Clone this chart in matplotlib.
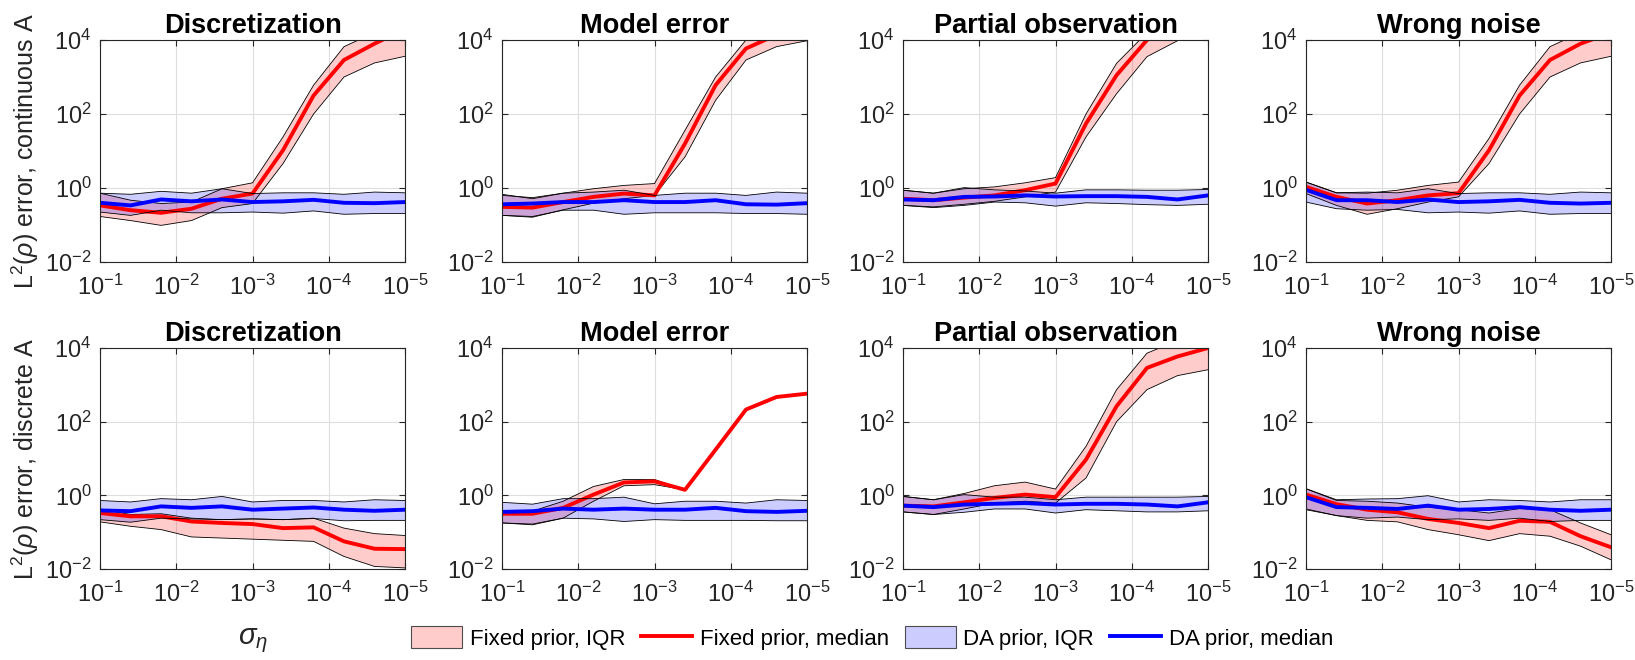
import numpy as np
from matplotlib import pyplot as plt
from matplotlib.patches import Patch
from matplotlib.lines import Line2D

plt.rcParams['font.family'] = ['Liberation Sans', 'DejaVu Sans']
plt.rcParams['mathtext.fontset'] = 'custom'
plt.rcParams['mathtext.rm'] = 'Liberation Sans'
plt.rcParams['mathtext.it'] = 'Liberation Sans:italic'
plt.rcParams['mathtext.bf'] = 'Liberation Sans:bold'

# noise levels (x axis, shown reversed)
sigma_eta = [1.0e-1, 3.98e-2, 1.58e-2, 6.31e-3, 2.51e-3, 1.0e-3,
             3.98e-4, 1.58e-4, 6.31e-5, 2.51e-5, 1.0e-5]

titles = ['Discretization', 'Model error', 'Partial observation', 'Wrong noise']
row_labels = [r'L$^2$($\rho$) error, continuous A', r'L$^2$($\rho$) error, discrete A']

# values as log10(error); rows 0-3 continuous A, rows 4-7 discrete A
nan = np.nan
fixed_med = [
    [-0.47, -0.60, -0.67, -0.56, -0.29, -0.15, 1.02, 2.50, 3.46, 3.90, 4.30],
    [-0.51, -0.53, -0.38, -0.24, -0.15, -0.20, 1.20, 2.78, 3.77, 4.14, 4.40],
    [-0.29, -0.33, -0.26, -0.20, -0.06, 0.12, 1.74, 3.05, 4.00, 4.50, 4.80],
    [0.03, -0.24, -0.42, -0.33, -0.20, -0.14, 1.02, 2.50, 3.46, 3.90, 4.20],
    [-0.48, -0.57, -0.57, -0.71, -0.75, -0.78, -0.89, -0.87, -1.25, -1.45, -1.46],
    [-0.50, -0.50, -0.34, 0.02, 0.35, 0.38, 0.15, 1.24, 2.33, 2.67, 2.76],
    [-0.28, -0.30, -0.19, -0.07, 0.02, -0.05, 0.97, 2.42, 3.46, 3.77, 4.00],
    [0.02, -0.24, -0.39, -0.46, -0.64, -0.75, -0.89, -0.69, -0.72, -1.11, -1.41],
]
fixed_hi = [
    [-0.14, -0.33, -0.42, -0.38, -0.02, 0.14, 1.38, 2.78, 3.82, 4.20, 4.50],
    [-0.20, -0.26, -0.14, -0.02, 0.07, 0.12, 1.56, 3.00, 4.00, 4.40, 4.70],
    [-0.06, -0.14, -0.02, 0.03, 0.14, 0.28, 2.00, 3.37, 4.20, 4.80, 5.00],
    [0.16, -0.13, -0.14, -0.06, 0.07, 0.16, 1.34, 2.78, 3.82, 4.20, 4.50],
    [-0.37, -0.52, -0.50, -0.62, -0.66, -0.64, -0.66, -0.62, -0.89, -1.04, -1.09],
    [-0.43, -0.43, -0.16, 0.24, 0.43, 0.43, 0.15, nan, nan, nan, nan],
    [-0.03, -0.12, 0.05, 0.26, 0.36, 0.17, 1.33, 2.87, 3.86, 4.20, 4.40],
    [0.18, -0.14, -0.16, -0.21, -0.32, -0.39, -0.48, -0.36, -0.39, -0.75, -1.07],
]
fixed_lo = [
    [-0.77, -0.88, -1.01, -0.88, -0.53, -0.42, 0.66, 2.00, 3.00, 3.38, 3.56],
    [-0.74, -0.79, -0.59, -0.41, -0.29, -0.20, 0.84, 2.37, 3.46, 3.82, 3.98],
    [-0.47, -0.51, -0.44, -0.36, -0.24, -0.11, 1.38, 2.55, 3.55, 3.98, 4.30],
    [-0.15, -0.47, -0.71, -0.56, -0.38, -0.24, 0.66, 2.00, 3.00, 3.38, 3.56],
    [-0.72, -0.84, -0.93, -1.13, -1.16, -1.19, -1.22, -1.25, -1.66, -1.93, -1.97],
    [-0.75, -0.80, -0.62, -0.16, 0.26, 0.29, 0.15, nan, nan, nan, nan],
    [-0.45, -0.52, -0.37, -0.21, -0.16, -0.21, 0.47, 2.00, 2.87, 3.25, 3.41],
    [-0.39, -0.55, -0.68, -0.72, -0.93, -1.07, -1.23, -1.04, -1.11, -1.38, -1.75],
]
da_med = [
    [-0.40, -0.47, -0.31, -0.36, -0.31, -0.38, -0.36, -0.32, -0.40, -0.41, -0.38],
    [-0.44, -0.42, -0.38, -0.38, -0.33, -0.38, -0.38, -0.33, -0.44, -0.45, -0.41],
    [-0.31, -0.33, -0.24, -0.23, -0.20, -0.23, -0.22, -0.22, -0.24, -0.31, -0.20],
    [-0.05, -0.33, -0.33, -0.38, -0.31, -0.38, -0.36, -0.32, -0.40, -0.42, -0.40],
    [-0.41, -0.43, -0.30, -0.34, -0.30, -0.39, -0.36, -0.33, -0.39, -0.42, -0.39],
    [-0.45, -0.43, -0.36, -0.39, -0.36, -0.39, -0.39, -0.34, -0.43, -0.45, -0.42],
    [-0.28, -0.32, -0.25, -0.23, -0.21, -0.25, -0.23, -0.23, -0.25, -0.30, -0.19],
    [-0.05, -0.32, -0.34, -0.37, -0.28, -0.39, -0.37, -0.32, -0.39, -0.42, -0.39],
]
da_hi = [
    [-0.14, -0.17, -0.09, -0.14, -0.02, -0.15, -0.13, -0.13, -0.17, -0.11, -0.13],
    [-0.17, -0.29, -0.14, -0.11, -0.06, -0.20, -0.14, -0.14, -0.20, -0.11, -0.14],
    [-0.06, -0.14, 0.01, -0.05, -0.08, -0.14, -0.05, -0.05, -0.06, -0.06, -0.04],
    [0.16, -0.13, -0.11, -0.13, -0.02, -0.15, -0.13, -0.13, -0.17, -0.11, -0.13],
    [-0.14, -0.18, -0.09, -0.12, -0.03, -0.18, -0.14, -0.14, -0.18, -0.12, -0.14],
    [-0.19, -0.24, -0.09, -0.09, -0.05, -0.23, -0.16, -0.16, -0.21, -0.12, -0.14],
    [-0.03, -0.12, 0.02, -0.05, -0.05, -0.12, -0.05, -0.05, -0.05, -0.05, -0.03],
    [0.18, -0.12, -0.10, -0.09, -0.01, -0.18, -0.12, -0.14, -0.18, -0.12, -0.12],
]
da_lo = [
    [-0.65, -0.74, -0.60, -0.67, -0.67, -0.65, -0.68, -0.62, -0.71, -0.69, -0.69],
    [-0.74, -0.77, -0.60, -0.60, -0.71, -0.67, -0.67, -0.67, -0.69, -0.69, -0.71],
    [-0.47, -0.53, -0.47, -0.38, -0.40, -0.49, -0.40, -0.42, -0.45, -0.47, -0.44],
    [-0.38, -0.56, -0.60, -0.58, -0.67, -0.65, -0.68, -0.62, -0.71, -0.69, -0.69],
    [-0.66, -0.73, -0.62, -0.64, -0.66, -0.64, -0.66, -0.63, -0.69, -0.68, -0.68],
    [-0.75, -0.78, -0.62, -0.64, -0.71, -0.66, -0.68, -0.68, -0.68, -0.69, -0.69],
    [-0.45, -0.52, -0.46, -0.37, -0.37, -0.48, -0.39, -0.42, -0.45, -0.45, -0.42],
    [-0.37, -0.55, -0.62, -0.59, -0.66, -0.64, -0.68, -0.62, -0.71, -0.68, -0.68],
]

W, H = 1635.0, 660.0
lefts = [100, 502, 903, 1306]
rows_px = [(40, 262), (348, 569)]
axc = '#262626'

fig = plt.figure(figsize=(16.35, 6.6), dpi=100)
x = np.array(sigma_eta)

for r in range(2):
    top, bot = rows_px[r]
    for c in range(4):
        k = r * 4 + c
        ax = fig.add_axes([lefts[c] / W, 1 - bot / H, 305 / W, (bot - top) / H])
        fm = 10 ** np.array(fixed_med[k])
        fh = 10 ** np.array(fixed_hi[k])
        fl = 10 ** np.array(fixed_lo[k])
        dm = 10 ** np.array(da_med[k])
        dh = 10 ** np.array(da_hi[k])
        dl = 10 ** np.array(da_lo[k])

        ax.fill_between(x, fl, fh, facecolor=(1, 0, 0, 0.2), edgecolor='none')
        ax.plot(x, fh, color='k', lw=0.6)
        ax.plot(x, fl, color='k', lw=0.6)
        ax.plot(x, fm, color='r', lw=2.8)
        ax.fill_between(x, dl, dh, facecolor=(0, 0, 1, 0.2), edgecolor='none')
        ax.plot(x, dh, color='k', lw=0.6)
        ax.plot(x, dl, color='k', lw=0.6)
        ax.plot(x, dm, color='b', lw=2.8)

        ax.set_xscale('log')
        ax.set_yscale('log')
        ax.set_xlim(1e-1, 1e-5)
        ax.set_ylim(1e-2, 1e4)
        ax.set_xticks([1e-1, 1e-2, 1e-3, 1e-4, 1e-5])
        ax.set_yticks([1e-2, 1e0, 1e2, 1e4])
        ax.minorticks_off()
        ax.grid(True, color='0.87', lw=0.8)
        ax.set_axisbelow(True)
        ax.tick_params(direction='in', top=True, right=True, length=4,
                       labelsize=17, colors=axc)
        ax.tick_params(axis='x', pad=9)
        ax.tick_params(axis='y', pad=6)
        for s in ax.spines.values():
            s.set_color(axc)
            s.set_linewidth(0.8)
        ax.set_title(titles[c], fontsize=19.5, fontweight='bold', pad=5)
        if c == 0:
            ax.set_ylabel(row_labels[r], fontsize=18, color=axc, labelpad=3)
        if r == 1 and c == 0:
            ax.set_xlabel(r'$\sigma_\eta$', fontsize=21, color=axc, labelpad=14)

handles = [
    Patch(facecolor=(1, 0, 0, 0.2), edgecolor='0.3', lw=0.8),
    Line2D([], [], color='r', lw=2.8),
    Patch(facecolor=(0, 0, 1, 0.2), edgecolor='0.3', lw=0.8),
    Line2D([], [], color='b', lw=2.8),
]
labels = ['Fixed prior, IQR', 'Fixed prior, median', 'DA prior, IQR', 'DA prior, median']
fig.legend(handles, labels, loc='center', bbox_to_anchor=(872 / W, 1 - 638 / H),
           ncol=4, frameon=False, fontsize=16, handlelength=2.3, handleheight=1.1,
           handletextpad=0.35, columnspacing=0.7, borderpad=0.1)

fig.savefig('out.png', dpi=100)
